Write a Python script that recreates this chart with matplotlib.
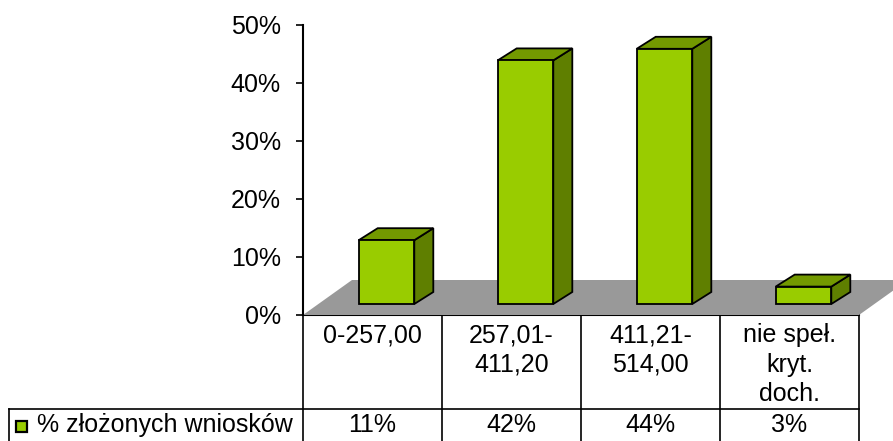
import matplotlib
matplotlib.use("Agg")
import matplotlib.pyplot as plt
from matplotlib.patches import Polygon, Rectangle
from matplotlib import transforms

plt.rcParams['font.family'] = ['Liberation Sans', 'DejaVu Sans']

# data
categories = ["0-257,00", "257,01-\n411,20", "411,21-\n514,00", "nie speł.\nkryt.\ndoch."]
values = [11, 42, 44, 3]
series_name = "% złożonych wniosków"
y_ticks = [0, 10, 20, 30, 40, 50]

W, H = 893, 441
front_col = '#99CC00'
top_col = '#739900'
side_col = '#5f7f00'
floor_col = '#999999'
FS = 18

fig = plt.figure(figsize=(W / 100, H / 100), dpi=100)

# overlay axes in pixel coords for the table
ov = fig.add_axes([0, 0, 1, 1])
ov.set_xlim(0, W)
ov.set_ylim(H, 0)
ov.axis('off')

# main plot area: 0% at y=315px, 50% at y=25px, x from 303 to 859
left, right, y0, y50 = 303, 859, 315, 25
ax = fig.add_axes([left / W, (H - y0) / H, (right - left) / W, (y0 - y50) / H])
ax.set_xlim(-0.5, len(categories) - 0.5)
ax.set_ylim(0, 50)
ax.patch.set_alpha(0)
for s in ['top', 'right', 'bottom']:
    ax.spines[s].set_visible(False)
ax.spines['left'].set_linewidth(1.5)
ax.set_xticks([])
ax.set_yticks(y_ticks)
ax.set_yticklabels([f"{t}%" for t in y_ticks], fontsize=FS)
ax.tick_params(axis='y', length=5, width=1.2, pad=11)

px_x = (right - left) / len(categories)
px_y = (y0 - y50) / 50.0

# floor
fdx, fdy = 49 / px_x, 35 / px_y
floor = Polygon([(-0.5, 0), (3.5, 0), (3.5 + fdx, fdy), (-0.5 + fdx, fdy)],
                closed=True, facecolor=floor_col, edgecolor='none', clip_on=False, zorder=1)
ax.add_patch(floor)

# bars, shifted back into the floor
shift = transforms.offset_copy(ax.transData, fig=fig, x=14, y=11, units='dots')
bw = 0.4
ddx, ddy = 19 / px_x, 12 / px_y
for i, v in enumerate(values):
    x0, x1 = i - bw / 2, i + bw / 2
    ax.add_patch(Polygon([(x1, 0), (x1 + ddx, ddy), (x1 + ddx, v + ddy), (x1, v)],
                         closed=True, facecolor=side_col, edgecolor='black', lw=1.3,
                         transform=shift, clip_on=False, zorder=3))
    ax.add_patch(Polygon([(x0, v), (x1, v), (x1 + ddx, v + ddy), (x0 + ddx, v + ddy)],
                         closed=True, facecolor=top_col, edgecolor='black', lw=1.3,
                         transform=shift, clip_on=False, zorder=3))
ax.bar(range(len(values)), values, width=bw, color=front_col, edgecolor='black',
       linewidth=1.3, transform=shift, clip_on=False, zorder=4)

# data table
row_sep, bottom, tab_left = 409, 441, 9
lc = 'black'
lw = 1.2
ov.plot([left, right], [y0, y0], color=lc, lw=1.5)
ov.plot([tab_left, right], [row_sep, row_sep], color=lc, lw=lw)
ov.plot([tab_left, tab_left], [row_sep, bottom], color=lc, lw=lw)
for i in range(len(categories) + 1):
    x = left + i * px_x
    ov.plot([x, x], [y0, bottom], color=lc, lw=lw)

blend = transforms.blended_transform_factory(ax.transData, ov.transData)
for i, (c, v) in enumerate(zip(categories, values)):
    ov.text(i, 323, c, transform=blend, ha='center', va='top', fontsize=FS,
            linespacing=1.3)
    ov.text(i, 425, f"{v}%", transform=blend, ha='center', va='center', fontsize=FS)

ov.add_patch(Rectangle((16, 421), 11, 11, facecolor=front_col, edgecolor='black', lw=1.6))
ov.text(37, 425, series_name, ha='left', va='center', fontsize=FS)

fig.savefig("out.png", dpi=100)
